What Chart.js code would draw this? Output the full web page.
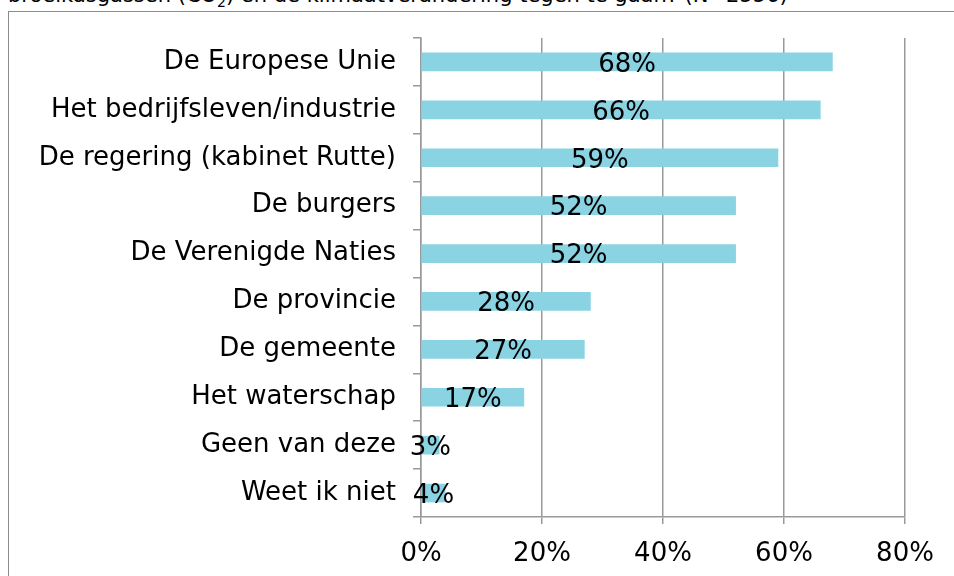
<!DOCTYPE html>
<html>
<head>
<meta charset="utf-8">
<script src="https://cdn.jsdelivr.net/npm/chart.js@4/dist/chart.umd.min.js"></script>
<style>
  body { margin: 0; background: #fff; }
  #wrap { position: relative; width: 954px; height: 576px; overflow: hidden; }
  #kop { position: absolute; left: 8px; top: -15px; font: 21px/21px "DejaVu Sans", Verdana, sans-serif; color: #000; white-space: nowrap; }
  #kader { position: absolute; left: 8px; top: 11px; width: 1000px; height: 700px; border: 1.5px solid #8c8c8c; box-sizing: border-box; }
  canvas { position: absolute; left: 0; top: 0; }
</style>
</head>
<body>
<div id="wrap">
  <div id="kop">broeikasgassen (CO<sub style="font-size:14px;line-height:0">2</sub>) en de klimaatverandering tegen te gaan? (N=2556)</div>
  <div id="kader"></div>
  <canvas id="grafiek" width="954" height="576"></canvas>
</div>
<script>
// categorieën en percentages
const categorieen = [
  'De Europese Unie',
  'Het bedrijfsleven/industrie',
  'De regering (kabinet Rutte)',
  'De burgers',
  'De Verenigde Naties',
  'De provincie',
  'De gemeente',
  'Het waterschap',
  'Geen van deze',
  'Weet ik niet'
];
const percentages = [68, 66, 59, 52, 52, 28, 27, 17, 3, 4];
const asTicks = [0, 20, 40, 60, 80];

const lettertype = '"DejaVu Sans", Verdana, sans-serif';

// waarden op de balken schrijven
const balkLabels = {
  id: 'balkLabels',
  afterDatasetsDraw(chart) {
    const ctx = chart.ctx;
    const meta = chart.getDatasetMeta(0);
    ctx.save();
    ctx.font = '26px ' + lettertype;
    ctx.fillStyle = '#000';
    ctx.textAlign = 'center';
    ctx.textBaseline = 'middle';
    meta.data.forEach((bar, i) => {
      const x = (bar.base + bar.x) / 2;
      ctx.fillText(percentages[i] + '%', x, bar.y + 3);
    });
    ctx.restore();
  }
};

new Chart(document.getElementById('grafiek'), {
  type: 'bar',
  data: {
    labels: categorieen,
    datasets: [{
      data: percentages,
      backgroundColor: '#8ad3e3',
      barThickness: 18
    }]
  },
  options: {
    indexAxis: 'y',
    responsive: false,
    animation: false,
    layout: { padding: { top: 38, right: 49, bottom: 0, left: 0 } },
    plugins: { legend: { display: false }, tooltip: { enabled: false } },
    scales: {
      x: {
        min: 0,
        max: 80,
        afterBuildTicks: (scale) => { scale.ticks = asTicks.map(v => ({ value: v })); },
        afterFit: (scale) => { scale.height = 59; },
        ticks: {
          callback: v => v + '%',
          font: { family: lettertype, size: 26 },
          color: '#000',
          padding: 15,
          maxRotation: 0
        },
        grid: { color: '#999', lineWidth: 1.5, tickLength: 7 },
        border: { color: '#999', width: 1.5 }
      },
      y: {
        afterFit: (scale) => { scale.width = 421; },
        ticks: {
          font: { family: lettertype, size: 26 },
          color: '#000',
          padding: 17
        },
        grid: { drawOnChartArea: false, color: '#999', lineWidth: 1.5, tickLength: 8 },
        border: { color: '#999', width: 1.5 }
      }
    }
  },
  plugins: [balkLabels]
});
</script>
</body>
</html>
